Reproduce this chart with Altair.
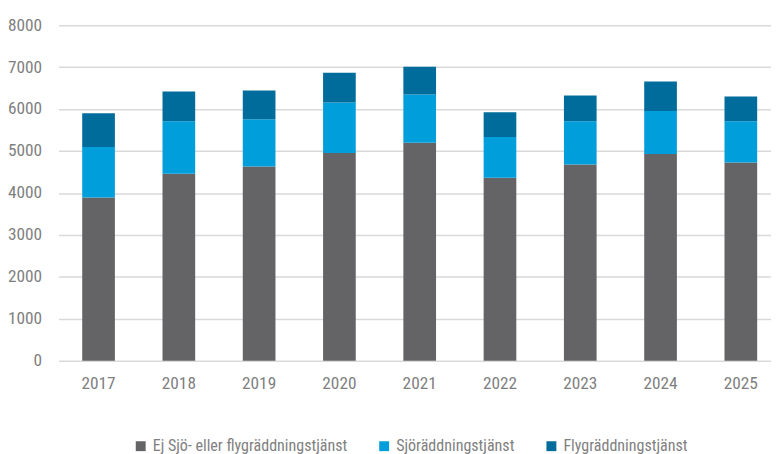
import altair as alt
import pandas as pd

years = ["2017", "2018", "2019", "2020", "2021", "2022", "2023", "2024", "2025"]
series = ["Ej Sjö- eller flygräddningstjänst", "Sjöräddningstjänst", "Flygräddningstjänst"]
ej = [3890, 4457, 4630, 4953, 5197, 4362, 4677, 4929, 4724]
sjo = [1205, 1252, 1126, 1204, 1149, 969, 1032, 1024, 985]
flyg = [803, 708, 685, 709, 662, 590, 614, 701, 590]
colors = ["#646466", "#009FDB", "#006C9B"]

rows = []
for i, y in enumerate(years):
    for k, (name, vals) in enumerate(zip(series, [ej, sjo, flyg])):
        rows.append({"year": y, "series": name, "value": vals[i], "idx": k})
df = pd.DataFrame(rows)

FONT = "Roboto Condensed, Noto Sans Condensed, Open Sans Condensed, Arial Narrow, Roboto"
TXT = "#7F7F7F"
FS = 17.5
LFS = 16.2

chart = alt.Chart(df).mark_bar().encode(
    x=alt.X("year:N", sort=years, title=None,
            scale=alt.Scale(paddingInner=0.593, paddingOuter=0.234, align=0.632),
            axis=alt.Axis(labelAngle=0, domain=False, ticks=False, labelPadding=14,
                          labelFontSize=FS, labelColor=TXT, labelFont=FONT, grid=False)),
    y=alt.Y("value:Q", stack="zero", title=None,
            scale=alt.Scale(domain=[0, 8000], nice=False),
            axis=alt.Axis(values=[0, 1000, 2000, 3000, 4000, 5000, 6000, 7000, 8000],
                          domain=False, ticks=False, labelPadding=17, labelFontSize=FS,
                          labelColor=TXT, labelFont=FONT, gridColor="#D9D9D9",
                          gridWidth=1.5, format="d")),
    color=alt.Color("series:N", sort=series, title=None,
                    scale=alt.Scale(domain=series, range=colors),
                    legend=alt.Legend(orient="none", legendX=75, legendY=417,
                                      direction="horizontal", symbolType="square",
                                      symbolSize=100, symbolStrokeWidth=0,
                                      labelFontSize=LFS, labelColor=TXT, labelFont=FONT,
                                      labelLimit=0, labelOffset=4, columnPadding=29,
                                      padding=0)),
    order=alt.Order("idx:Q", sort="ascending"),
).properties(
    width=720, height=339,
    autosize=alt.AutoSizeParams(type="none"),
    padding={"left": 51, "top": 15, "right": 0, "bottom": 92},
).configure_view(stroke=None)

chart.save("out.html", embed_options={"renderer": "svg", "actions": False})
